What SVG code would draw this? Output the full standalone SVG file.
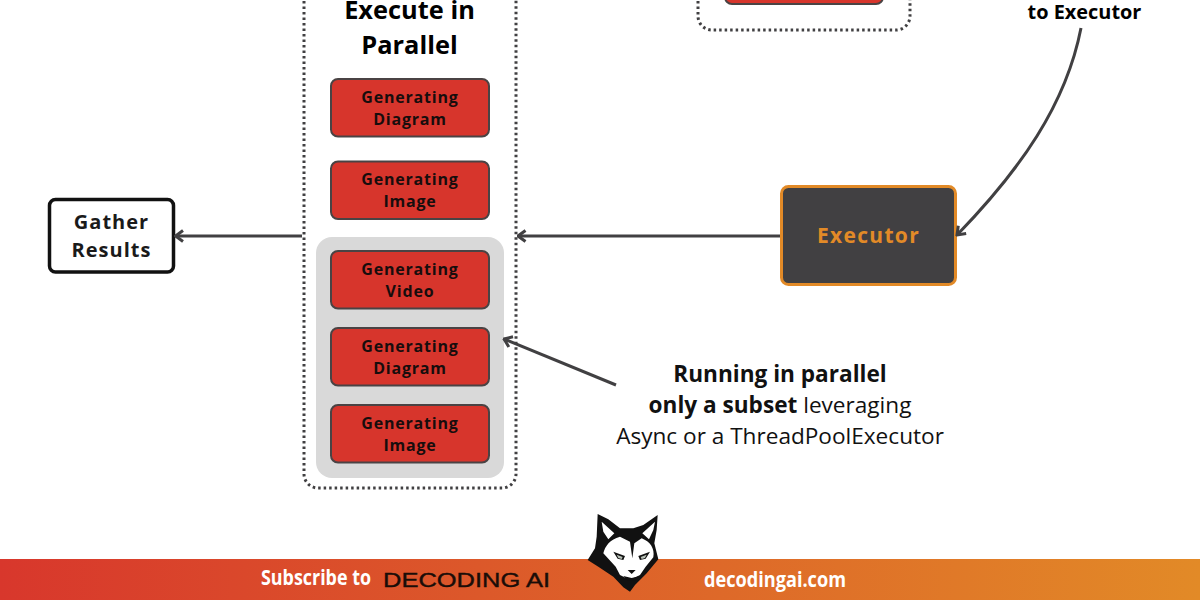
<svg xmlns="http://www.w3.org/2000/svg" width="1200" height="600" viewBox="0 0 1200 600">
<style>
text{font-family:"Open Sans","Liberation Sans",sans-serif;text-anchor:middle}
.gen{font-size:16px;font-weight:700;letter-spacing:.8px;fill:#170d0d}
.red{fill:#d7352c;stroke:#4a4344;stroke-width:2}
.dot{fill:none;stroke:#414042;stroke-width:3;stroke-dasharray:2.500 3}
.conn{fill:none;stroke:#414042;stroke-width:3}
.b{font-weight:700}
.l{font-size:22.600px;font-weight:400;fill:#111}
.foot{font-weight:700;fill:#fff}
</style>
<defs>
<linearGradient id="bar" x1="0" x2="1" y1="0" y2="0"><stop offset="0" stop-color="#d8372c"/><stop offset="1" stop-color="#e28a27"/></linearGradient>
<marker id="arr" markerUnits="userSpaceOnUse" markerWidth="14" markerHeight="14" refX="12.500" refY="7" orient="auto" viewBox="0 0 14 14"><path d="M5 1.500L12.500 7L5 12.500" fill="none" stroke="#414042" stroke-width="3"/></marker>
</defs>
<rect width="1200" height="600" fill="#fff"/>
<g id="parallel-container">
<path class="dot" d="M304 -10V474a14 14 0 0 0 14 14H502a14 14 0 0 0 14-14V-10"/>
<text x="409.500" y="19" font-size="25.400" font-weight="700" fill="#000">Execute in</text>
<text x="409.500" y="54" font-size="25.400" font-weight="700" fill="#000">Parallel</text>
</g>
<g id="subset-group"><rect x="316" y="237" width="188" height="241" rx="16" fill="#d9d9d9"/></g>
<g id="node-diagram-1"><rect class="red" x="331" y="79" width="158" height="57.500" rx="7"/><text class="gen" x="410" y="103">Generating</text><text class="gen" x="410" y="125">Diagram</text></g>
<g id="node-image-1"><rect class="red" x="331" y="161.500" width="158" height="57.500" rx="7"/><text class="gen" x="410" y="185">Generating</text><text class="gen" x="410" y="207">Image</text></g>
<g id="node-video"><rect class="red" x="331" y="251" width="158" height="57.500" rx="7"/><text class="gen" x="410" y="275">Generating</text><text class="gen" x="410" y="297">Video</text></g>
<g id="node-diagram-2"><rect class="red" x="331" y="328" width="158" height="57.500" rx="7"/><text class="gen" x="410" y="352">Generating</text><text class="gen" x="410" y="374">Diagram</text></g>
<g id="node-image-2"><rect class="red" x="331" y="405" width="158" height="57.500" rx="7"/><text class="gen" x="410" y="429">Generating</text><text class="gen" x="410" y="451">Image</text></g>
<g id="top-right-container">
<path class="dot" d="M698 -10V16a14 14 0 0 0 14 14H896a14 14 0 0 0 14-14V-10"/>
<rect class="red" x="725" y="-40" width="158" height="44" rx="7"/>
</g>
<g id="node-gather"><rect x="49.500" y="199.500" width="124" height="72.500" rx="6" fill="#fff" stroke="#111" stroke-width="3.500"/>
<text x="111.500" y="229" font-size="20" font-weight="700" letter-spacing="1" fill="#1a1a1a">Gather</text>
<text x="111.500" y="257" font-size="20" font-weight="700" letter-spacing="1" fill="#1a1a1a">Results</text></g>
<g id="node-executor"><rect x="781.500" y="186.500" width="174" height="98" rx="7" fill="#414042" stroke="#e28a27" stroke-width="3"/>
<text x="868.500" y="243" font-size="21" font-weight="700" letter-spacing="1.300" fill="#e28a27">Executor</text></g>
<g id="connectors">
<path class="conn" d="M302 236H175.500" marker-end="url(#arr)"/>
<path class="conn" d="M780 236H518" marker-end="url(#arr)"/>
<path class="conn" d="M616 385L504 339" marker-end="url(#arr)"/>
<path class="conn" d="M1081 28C1066 105 1020 170 957 235" marker-end="url(#arr)"/>
</g>
<g id="labels">
<text x="1084.500" y="19" font-size="19.900" font-weight="700" fill="#000">to Executor</text>
<text class="l" x="780" y="382"><tspan class="b">Running in parallel</tspan></text>
<text class="l" x="780" y="413"><tspan class="b">only a subset</tspan> leveraging</text>
<text class="l" x="780" y="444">Async or a ThreadPoolExecutor</text>
</g>
<g id="footer">
<rect y="559" width="1200" height="41" fill="url(#bar)"/>
<text class="foot" x="316" y="585" font-size="21" textLength="110" lengthAdjust="spacingAndGlyphs">Subscribe to</text>
<text x="466.500" y="587" font-size="21" fill="#1a0d08" stroke="#1a0d08" stroke-width=".4" style="font-family:'Liberation Sans',sans-serif" textLength="167" lengthAdjust="spacingAndGlyphs">DECODING AI</text>
<text class="foot" x="775" y="587" font-size="21" textLength="142" lengthAdjust="spacingAndGlyphs">decodingai.com</text>
<g id="logo" transform="translate(575 510) scale(.3333)">
<path fill="#111" d="M68 12L100 28L135 55L175 55L205 45L248 15L245 60L238 100L250 148L215 190L180 225L165 245L145 232L115 200L70 170L38 150L60 115L65 80Z"/>
<path fill="#fff" d="M80 35L118 70L100 88L85 65ZM240 35L202 70L222 88L235 60Z"/>
<path fill="#fff" d="M85 130C90 108 105 88 135 80L165 95L172 145L178 100L200 85C225 95 240 115 235 142L212 170L195 195L165 210L135 195L122 170Z"/>
<path fill="#111" d="M115 125L150 138L145 150L128 146ZM225 125L190 138L195 150L212 146ZM158 180H182L170 192ZM145 198L170 204L195 198L182 212H158Z"/>
<path fill="#b9c2b8" d="M125 134L143 141L140 147L130 144ZM215 134L197 141L200 147L210 144Z"/>
</g>
</g>
</svg>
